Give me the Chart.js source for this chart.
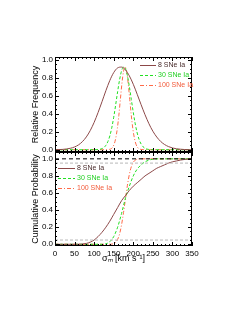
<!DOCTYPE html>
<html><head><meta charset="utf-8">
<script src="https://cdn.jsdelivr.net/npm/chart.js@4.4.0/dist/chart.umd.min.js"></script>
<style>
html,body{margin:0;padding:0;background:#fff;width:249px;height:323px;overflow:hidden}
.c{position:absolute;left:0;top:0;width:249px;height:323px}
</style></head>
<body>
<div class="c"><canvas id="topc" width="249" height="323"></canvas></div>
<div class="c"><canvas id="botc" width="249" height="323"></canvas></div>
<script>
// ---- data ----
const seriesLabels = ['8 SNe Ia', '30 SNe Ia', '100 SNe Ia'];
const xTicks = [0, 50, 100, 150, 200, 250, 300, 350];
const yTicksTop = [0, 0.2, 0.4, 0.6, 0.8, 1.0];
const yTicksBot = [0, 0.2, 0.4, 0.6, 0.8, 1.0];
const refLevels = [1.0, 0.95, 0.05];

const pdf8X = [0,10,20,30,40,50,60,70,80,90,100,110,120,130,140,150,160,170,180,190,200,210,220,230,240,250,260,270,280,290,300,310,320,330,340,350];
const pdf8Y = [0.001,0.002,0.004,0.009,0.017,0.031,0.054,0.090,0.142,0.213,0.304,0.413,0.533,0.656,0.769,0.857,0.909,0.918,0.887,0.820,0.727,0.616,0.500,0.389,0.289,0.206,0.141,0.092,0.058,0.035,0.020,0.011,0.006,0.003,0.001,0.001];
const pdf30X = [0,100,110,115,120,125,130,135,140,145,150,155,160,165,170,175,180,185,190,195,200,205,210,215,220,225,230,235,240,245,255,350];
const pdf30Y = [0,0,0.002,0.005,0.012,0.025,0.049,0.090,0.153,0.243,0.361,0.499,0.645,0.778,0.875,0.919,0.900,0.823,0.701,0.558,0.414,0.287,0.186,0.112,0.063,0.033,0.016,0.007,0.003,0.001,0,0];
const pdf100X = [0,130,139,143,147,151,155,159,163,167,171,175,179,183,187,191,195,199,203,207,211,215,219,228,350];
const pdf100Y = [0,0,0.004,0.010,0.026,0.060,0.125,0.229,0.378,0.558,0.737,0.870,0.920,0.870,0.737,0.558,0.378,0.229,0.125,0.060,0.026,0.010,0.004,0,0];

const cdf8X = [0,50,60,70,80,90,100,110,120,130,140,150,160,170,180,190,200,210,220,230,240,250,260,270,280,290,300,310,320,330,340,350];
const cdf8Y = [0,0,0.001,0.003,0.01,0.025,0.05,0.09,0.14,0.20,0.27,0.35,0.43,0.51,0.57,0.63,0.68,0.72,0.76,0.80,0.83,0.86,0.89,0.91,0.93,0.95,0.965,0.975,0.985,0.992,0.997,1.0];
const cdf30X = [0,120,130,140,150,160,170,180,190,200,210,220,230,240,250,260,350];
const cdf30Y = [0,0,0.005,0.03,0.09,0.2,0.36,0.54,0.68,0.8,0.88,0.93,0.965,0.985,0.995,1.0,1.0];
const cdf100X = [0,140,150,155,160,165,170,175,180,185,190,195,200,205,210,215,350];
const cdf100Y = [0,0,0.008,0.023,0.057,0.121,0.227,0.37,0.53,0.69,0.82,0.908,0.96,0.985,0.995,1.0,1.0];

// ---- styles ----
const FONT = 'Liberation Sans';
const colors = ['#8c4848', '#22e022', '#ff6a48'];
const textColors = ['#4a2c2c', '#22d022', '#f25a3a'];
const dashes = [[], [3, 2], [4, 2, 1, 2]];

const pts = (xs, ys) => xs.map((x, i) => ({x, y: ys[i]}));

function seriesSets(xsList, ysList) {
  return xsList.map((xs, i) => ({
    label: seriesLabels[i],
    data: pts(xs, ysList[i]),
    borderColor: colors[i],
    borderWidth: 1,
    borderDash: dashes[i],
    pointRadius: 0,
    fill: false,
    cubicInterpolationMode: 'monotone',
    legendIndex: i
  }));
}

const framePlugin = {
  id: 'frame',
  afterDatasetsDraw(chart) {
    const {ctx, chartArea: a, scales} = chart;
    const xs = scales.x, ys = scales.y;
    ctx.save();
    ctx.strokeStyle = '#000';
    ctx.lineWidth = 1;
    ctx.strokeRect(Math.round(a.left) + 0.5, Math.round(a.top) + 0.5,
      Math.round(a.right - a.left) - 1, Math.round(a.bottom - a.top) - 1);
    ctx.beginPath();
    // x ticks (major + minor), inner on top & bottom
    for (let v = xs.min; v <= xs.max + 1e-6; v += 10) {
      const p = Math.round(xs.getPixelForValue(v)) + 0.5;
      const len = (Math.abs(v % 50) < 1e-6) ? 4 : 2;
      ctx.moveTo(p, a.bottom); ctx.lineTo(p, a.bottom - len);
      ctx.moveTo(p, a.top); ctx.lineTo(p, a.top + len);
    }
    const yt = chart.options.plugins.frame.yTicks;
    for (let k = 0; k <= 20; k++) {
      const v = k * 0.05;
      const p = Math.round(ys.getPixelForValue(v)) + 0.5;
      const len = (k % 4 === 0) ? 4 : 2;
      ctx.moveTo(a.left, p); ctx.lineTo(a.left + len, p);
      ctx.moveTo(a.right, p); ctx.lineTo(a.right - len, p);
    }
    ctx.stroke();
    ctx.restore();
  }
};

const legendPlugin = {
  id: 'ilegend',
  afterDatasetsDraw(chart) {
    const o = chart.options.plugins.ilegend;
    const {ctx} = chart;
    ctx.save();
    ctx.font = '7px "' + FONT + '"';
    ctx.textBaseline = 'middle';
    chart.data.datasets.forEach(ds => {
      if (ds.legendIndex === undefined) return;
      const i = ds.legendIndex;
      const y = Math.round(o.y + i * o.dy) + 0.5;
      ctx.strokeStyle = ds.borderColor;
      ctx.lineWidth = 1;
      ctx.setLineDash(ds.borderDash);
      ctx.beginPath(); ctx.moveTo(o.x, y); ctx.lineTo(o.x + o.len, y); ctx.stroke();
      ctx.setLineDash([]);
      ctx.fillStyle = textColors[i];
      ctx.fillText(ds.label, o.x + o.len + 2, y);
    });
    ctx.restore();
  }
};

function yAxis(title, ticks, min, max) {
  return {
    type: 'linear', min, max,
    afterBuildTicks: s => { s.ticks = ticks.map(v => ({value: v})); },
    afterFit: s => { s.width = 29; },
    grid: {display: false, drawTicks: false},
    border: {display: false},
    ticks: {font: {family: FONT, size: 8}, color: '#000', padding: 2,
      callback: v => v.toFixed(1)},
    title: {display: true, text: title, font: {family: FONT, size: 9}, color: '#000', padding: {top: 4, bottom: 4}}
  };
}

const baseOpts = {
  responsive: false, animation: false,
  plugins: {legend: {display: false}, tooltip: {enabled: false}}
};

new Chart(document.getElementById('topc'), {
  type: 'line',
  data: {datasets: seriesSets([pdf8X, pdf30X, pdf100X], [pdf8Y, pdf30Y, pdf100Y])},
  options: Object.assign({}, baseOpts, {
    layout: {padding: {left: 26, right: 57, top: 57, bottom: 171}},
    plugins: {legend: {display: false}, tooltip: {enabled: false},
      frame: {}, ilegend: {x: 140, y: 64.5, dy: 10, len: 16}},
    scales: {
      x: {type: 'linear', min: 0, max: 350, display: false},
      y: yAxis('Relative Frequency', yTicksTop, -0.025, 1.03)
    }
  }),
  plugins: [framePlugin, legendPlugin]
});

const refSets = refLevels.map((lv, i) => ({
  data: [{x: 0, y: lv}, {x: 350, y: lv}],
  borderColor: i === 0 ? '#000' : '#b8b8b8',
  borderWidth: 1,
  borderDash: i === 0 ? [4, 3] : [3, 2],
  pointRadius: 0, fill: false
}));

new Chart(document.getElementById('botc'), {
  type: 'line',
  data: {datasets: refSets.concat(seriesSets([cdf8X, cdf30X, cdf100X], [cdf8Y, cdf30Y, cdf100Y]))},
  options: Object.assign({}, baseOpts, {
    layout: {padding: {left: 26, right: 57, top: 152, bottom: 55}},
    plugins: {legend: {display: false}, tooltip: {enabled: false},
      frame: {}, ilegend: {x: 58, y: 168, dy: 10, len: 17}},
    scales: {
      x: {
        type: 'linear', min: 0, max: 350,
        afterBuildTicks: s => { s.ticks = xTicks.map(v => ({value: v})); },
        afterFit: s => { s.height = 22; },
        grid: {display: false, drawTicks: false},
        border: {display: false},
        ticks: {font: {family: FONT, size: 8}, color: '#000', padding: 3, maxRotation: 0},
        title: {display: true, text: 'σₘ [km s⁻¹]', font: {family: FONT, size: 9}, color: '#000', padding: {top: 4, bottom: 4}}
      },
      y: yAxis('Cumulative Probability', yTicksBot, -0.02, 1.08)
    }
  }),
  plugins: [framePlugin, legendPlugin]
});
</script>
</body></html>
